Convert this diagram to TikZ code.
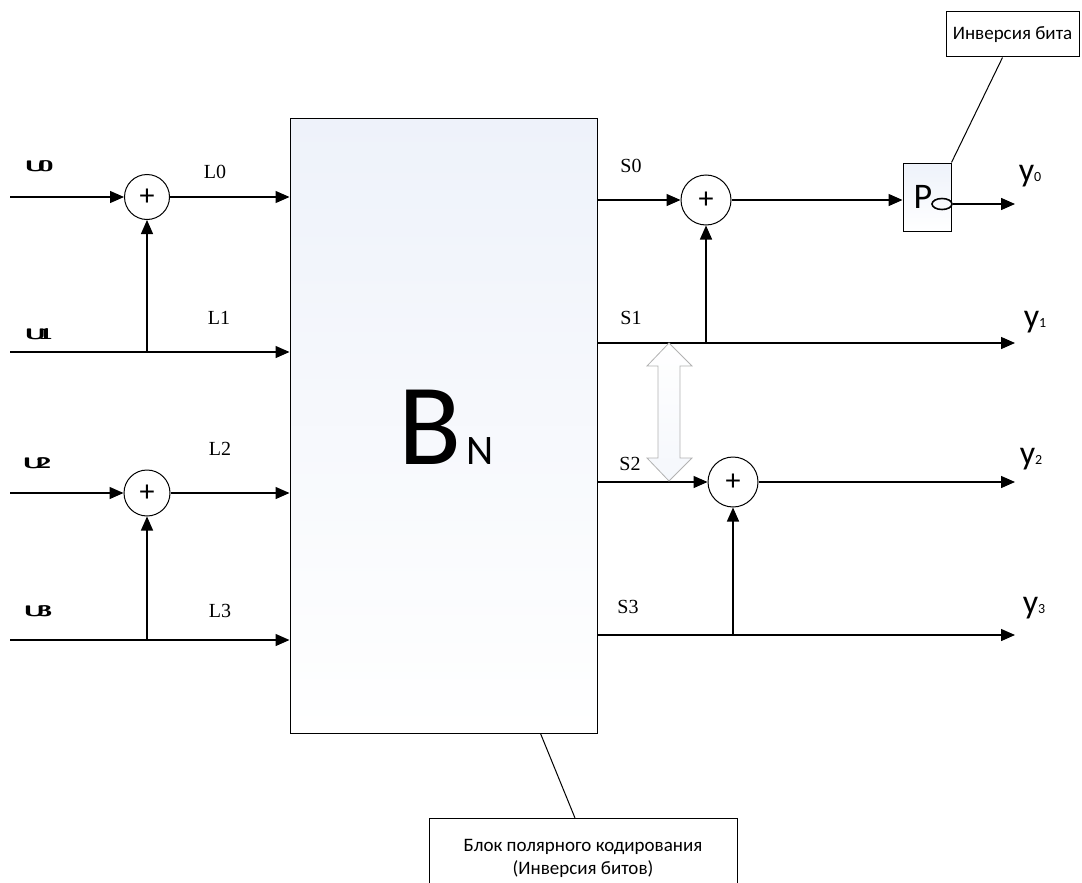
\documentclass[tikz,border=0pt]{standalone}
\usepackage{fontspec}
\usepackage{graphicx}
\setmainfont{Liberation Serif}
\newfontfamily\calfont{Carlito}
\usetikzlibrary{arrows.meta,calc,positioning,shapes.geometric}
\definecolor{boxblue}{RGB}{238,242,250}

\begin{document}
\begin{tikzpicture}[>={Triangle[length=14pt,width=12pt]},x=1pt,y=-1pt,line width=1.4pt,
  sum/.style={circle,draw,line width=1pt,fill=white,minimum size=#1,inner sep=0pt,
    font=\calfont\fontsize{30}{30}\selectfont},
  blockbox/.style={draw,line width=1pt,top color=boxblue,bottom color=white,inner sep=0pt},
  lbl/.style={font=\fontsize{20}{20}\selectfont},
  ulbl/.style={font=\sffamily\bfseries\fontsize{18}{18}\selectfont},
  ylbl/.style={font=\calfont\fontsize{34}{34}\selectfont},
  note/.style={draw,line width=1pt,fill=white,align=center,inner sep=0pt,
    font=\calfont\fontsize{19}{23}\selectfont}]
\clip (0,0) rectangle (1082,883);
% polar coding block
\node[blockbox,minimum width=307,minimum height=615] (bn) at (443.5,425.5) {};
\node[font=\calfont] (bnl) at (446,427) {\fontsize{116}{116}\selectfont B\hspace{5pt}\fontsize{42}{42}\selectfont N};
% inputs
\foreach \n/\y in {0/197,1/352,2/493,3/640} \coordinate (u\n) at (10,\y);
\node[sum=45] (a0) at (147,197) {+};
\node[sum=46] (a2) at (147,493) {+};
\draw[->] (u0) -- (a0);
\draw[->] (a0) -- (a0 -| bn.west);
\draw[->] (u1) -- (u1 -| bn.west);
\draw[->] (a0 |- u1) -- (a0);
\draw[->] (u2) -- (a2);
\draw[->] (a2) -- (a2 -| bn.west);
\draw[->] (u3) -- (u3 -| bn.west);
\draw[->] (a2 |- u3) -- (a2);
\node[ulbl] (lu0) at (39,166) {\scalebox{1.6}[.85]{U\kern-.3em0}};
\node[ulbl] (lu1) at (39,334) {\scalebox{1.6}[.85]{U\kern-.3em1}};
\node[ulbl] (lu2) at (37,463) {\scalebox{1.6}[.85]{U\kern-.3em2}};
\node[ulbl] (lu3) at (38,611) {\scalebox{1.6}[.85]{U\kern-.3em3}};
\node[lbl] (ll0) at (215,172) {L0};
\node[lbl] (ll1) at (219,318) {L1};
\node[lbl] (ll2) at (220,449) {L2};
\node[lbl] (ll3) at (220,611) {L3};
% outputs
\coordinate (s1) at (597,343);
\coordinate (s3) at (597,635);
\coordinate (y1e) at (1015,343);
\node[sum=50] (b0) at (706,200) {+};
\node[sum=50] (b2) at (733,482) {+};
\node[blockbox,minimum width=48,minimum height=68] (inv) at (927,197) {};
\node[font=\calfont\fontsize{36}{36}\selectfont] (pl) at (923,197) {P};
\node[draw,ellipse,line width=1.6pt,minimum width=20,minimum height=11,inner sep=0pt] (bub) at (942,204) {};
\draw[->] (bn.east |- b0) -- (b0);
\draw[->] (b0) -- (b0 -| inv.west);
\draw[->] (bub.east) -- (bub.east -| y1e);
\draw[->] (s1) -- (y1e);
\draw[->] (b0 |- s1) -- (b0);
\draw[->] (bn.east |- b2) -- (b2);
\draw[->] (b2) -- (b2 -| y1e);
\draw[->] (s3) -- (s3 -| y1e);
\draw[->] (b2 |- s3) -- (b2);
\node[lbl] (ls0) at (631,166) {S0};
\node[lbl] (ls1) at (631,318) {S1};
\node[lbl] (ls2) at (630,464) {S2};
\node[lbl] (ls3) at (628,607) {S3};
\node[ylbl] (ly0) at (1030,176) {y\fontsize{14}{14}\selectfont 0};
\node[ylbl] (ly1) at (1035,322) {y\fontsize{14}{14}\selectfont 1};
\node[ylbl] (ly2) at (1031,459) {y\fontsize{14}{14}\selectfont 2};
\node[ylbl] (ly3) at (1034,608) {y\fontsize{14}{14}\selectfont 3};
% swap arrow between S1 and S2
\draw[gray!60,top color=white,bottom color=boxblue!60,line width=.8pt] (669,343) -- (692,366) -- (680,366) -- (680,458)
  -- (692,458) -- (669,481) -- (647,458) -- (658,458) -- (658,366) -- (647,366) -- cycle;
% callouts
\node[note,minimum width=133,minimum height=45] (n1) at (1012.5,34.5) {Инверсия бита};
\draw[line width=1pt] ([xshift=-10]n1.south) -- (inv.north east);
\node[note,minimum width=308,minimum height=80,anchor=north] (n2) at (583,818)
  {Блок полярного кодирования\\(Инверсия битов)};
\draw[line width=1pt] ([xshift=-57]bn.south east) -- ([xshift=-8]n2.north);
\end{tikzpicture}
\end{document}
